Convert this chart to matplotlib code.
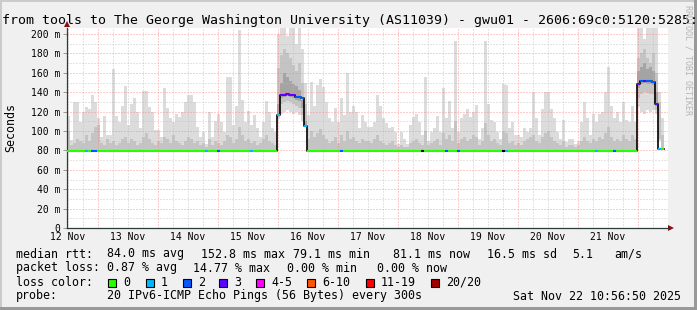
"""
SmokePing style latency chart: tools -> The George Washington University (gwu01)
"""

import numpy as np
import matplotlib
matplotlib.use("Agg")
import matplotlib.pyplot as plt
from matplotlib.patches import Rectangle

# ---------------------------------------------------------------
# Data (one value per 72 min bucket, starting 12 Nov ~11:36)
# ---------------------------------------------------------------
# top of the light "smoke" (slowest pings), ms
smoke_hi = [115, 91, 130, 130, 109, 120, 125, 123, 137, 130,
            113, 94, 115, 96, 96, 164, 115, 109, 126, 146,
            106, 128, 134, 120, 103, 141, 141, 125, 120, 101,
            101, 94, 144, 124, 113, 109, 118, 114, 120, 130,
            137, 137, 130, 104, 94, 99, 87, 120, 94, 110,
            118, 109, 99, 156, 156, 106, 126, 204, 132, 109,
            121, 106, 116, 103, 94, 109, 131, 120, 103, 99,
            200, 206, 206, 198, 206, 206, 190, 206, 185, 150,
            116, 151, 126, 147, 154, 145, 130, 113, 109, 124,
            109, 134, 116, 160, 120, 126, 120, 103, 116, 109,
            104, 104, 109, 137, 126, 113, 108, 103, 104, 99,
            87, 99, 92, 87, 106, 114, 118, 109, 96, 156,
            90, 99, 103, 115, 99, 144, 113, 131, 103, 193,
            99, 113, 118, 123, 114, 120, 127, 92, 103, 193,
            128, 111, 109, 99, 92, 148, 147, 103, 109, 96,
            96, 94, 103, 99, 103, 140, 113, 96, 123, 140,
            140, 123, 113, 99, 92, 111, 89, 92, 92, 87,
            90, 109, 130, 113, 96, 118, 109, 118, 120, 140,
            166, 126, 113, 120, 109, 130, 111, 109, 126, 109,
            206, 206, 195, 206, 206, 206, 206, 140, 113]

# top of the medium grey smoke band, ms
smoke_mid = [100, 86, 88, 92, 90, 88, 96, 90, 98, 104,
             106, 88, 86, 92, 88, 90, 86, 88, 92, 94,
             88, 92, 90, 86, 88, 94, 98, 92, 88, 86,
             90, 88, 94, 92, 88, 96, 90, 88, 86, 90,
             94, 92, 88, 90, 86, 88, 84, 92, 86, 90,
             88, 86, 90, 96, 94, 88, 92, 104, 96, 90,
             92, 88, 90, 86, 88, 92, 96, 90, 88, 86,
             165, 178, 185, 180, 175, 168, 162, 170, 150, 128,
             92, 100, 94, 98, 102, 96, 92, 88, 90, 94,
             88, 96, 90, 100, 92, 94, 90, 88, 92, 90,
             90, 88, 92, 96, 90, 88, 86, 88, 90, 86,
             84, 86, 84, 84, 88, 90, 92, 88, 86, 100,
             86, 88, 90, 92, 86, 98, 92, 96, 90, 110,
             88, 92, 94, 90, 92, 96, 94, 86, 90, 108,
             96, 90, 92, 88, 86, 100, 98, 88, 90, 86,
             88, 86, 90, 92, 94, 96, 90, 88, 94, 98,
             100, 94, 90, 88, 86, 90, 84, 86, 86, 84,
             86, 90, 94, 90, 88, 92, 90, 94, 92, 98,
             104, 94, 90, 92, 90, 96, 92, 90, 96, 92,
             175, 180, 185, 175, 170, 180, 160, 130, 96]

# bottom of the smoke (fastest pings), ms
smoke_lo = ([79] * 70 + [112, 118, 120, 122, 120, 118, 120, 116, 110, 104]
            + [79] * 110 + [125, 120, 118, 122, 120, 122, 118, 90, 80])

# bottom of the medium grey band
mid_lo = ([79] * 70 + [114, 128, 130, 131, 130, 128, 126, 124, 116, 106]
          + [79] * 110 + [134, 138, 140, 139, 138, 138, 122, 92, 80])

# dark core of the smoke around the median during the two congestion periods
dark_lo = ([0] * 70 + [116, 134, 135, 136, 135, 134, 132, 131, 124, 104]
           + [0] * 110 + [144, 148, 149, 148, 148, 147, 126, 0, 0])
dark_hi = ([0] * 70 + [128, 150, 160, 156, 152, 148, 146, 142, 132, 110]
           + [0] * 110 + [162, 166, 170, 164, 166, 162, 140, 0, 0])

# median rtt, ms
median = ([79] * 70 + [117, 137, 137, 138, 137, 137, 135, 135, 134, 105]
          + [79] * 110 + [148, 152, 152, 152, 152, 151, 128, 81, 81])

# packet loss class per bucket (index into loss_colors, 8 = unknown)
loss = ([0] * 6 + [1, 0, 2, 2] + [0] * 36 + [1, 0, 0, 0, 2] + [0] * 10 + [1] + [0] * 8
        + [1, 3, 3, 3, 3, 3, 2, 2, 2, 1] + [0] * 11 + [2] + [0] * 26 + [8] + [0] * 7 + [2]
        + [0] * 3 + [2] + [0] * 14 + [8, 1] + [0] * 29 + [1] + [0] * 5 + [2] + [0] * 7
        + [3, 2, 3, 2, 2, 2, 3, 1, 0])

loss_labels = ['0', '1', '2', '3', '4-5', '6-10', '11-19', '20/20']
loss_colors = ['#26ff00', '#00b8ff', '#0059ff', '#5e00ff',
               '#ff00ff', '#ff5500', '#ff0000', '#a10000', '#000000']

day_labels = ['12 Nov', '13 Nov', '14 Nov', '15 Nov', '16 Nov',
              '17 Nov', '18 Nov', '19 Nov', '20 Nov', '21 Nov']

y_ticks = [0, 20, 40, 60, 80, 100, 120, 140, 160, 180, 200]

title = ('from tools to The George Washington University (AS11039) - gwu01 - '
         '2606:69c0:5120:5285::1')

# ---------------------------------------------------------------
# Figure
# ---------------------------------------------------------------
W, H = 697, 310
MONO = 'DejaVu Sans Mono'
plt.rcParams['font.family'] = MONO

fig = plt.figure(figsize=(W / 100, H / 100), dpi=100, facecolor='#f0f0f0')


def fx(px):
    return px / W


def fy(py):
    return 1 - py / H


ax = fig.add_axes([fx(67), fy(228), (668 - 67) / W, 200 / H])
ax.set_facecolor('white')

# time axis in days since 12 Nov 00:00
t0 = 0.4833
step = 0.05
n = len(smoke_hi)
left = t0 + step * np.arange(n)
hi = np.array(smoke_hi, float)
mid = np.array(smoke_mid, float)
lo = np.array(smoke_lo, float)
mlo = np.array(mid_lo, float)
dlo = np.array(dark_lo, float)
dhi = np.array(dark_hi, float)
med = np.array(median, float)

# smoke
ax.bar(left, hi - lo, bottom=lo, width=step, align='edge',
       color='#dcdcdc', linewidth=0, antialiased=False, zorder=1)
ax.bar(left, mid - mlo, bottom=mlo, width=step, align='edge',
       color='#c4c4c4', linewidth=0, antialiased=False, zorder=1.1)
has_dark = dhi > 0
ax.bar(left[has_dark], (dhi - dlo)[has_dark], bottom=dlo[has_dark], width=step,
       align='edge', color='#a4a4a4', linewidth=0, antialiased=False, zorder=1.2)

# grid (drawn over the smoke like rrdtool)
dots = (0, (1, 2))
for d in np.arange(0.25, 10.5, 0.25):
    if abs(d - round(d)) < 1e-6:
        ax.axvline(d, color='#ff8080', lw=0.72, ls=dots, alpha=0.8, zorder=2)
    else:
        ax.axvline(d, color='#bdbdbd', lw=0.72, ls=dots, alpha=0.8, zorder=2)
for v in range(10, 210, 10):
    if v % 20 == 0:
        ax.axhline(v, color='#ff8080', lw=0.72, ls=dots, alpha=0.8, zorder=2)
    else:
        ax.axhline(v, color='#bdbdbd', lw=0.72, ls=dots, alpha=0.8, zorder=2)

# median line: black risers, loss coloured treads
ax.step(np.append(left, left[-1] + step), np.append(med, med[-1]),
        where='post', color='black', lw=1.2, zorder=3)
ax.hlines(med, left, left + step, colors=[loss_colors[i] for i in loss],
          lw=1.5, zorder=4)

ax.set_xlim(t0, 10.5)
ax.set_ylim(0, 206.2)

# axes
for s in ['top', 'right']:
    ax.spines[s].set_visible(False)
for s in ['left', 'bottom']:
    ax.spines[s].set_color('#2c3c38')
    ax.spines[s].set_linewidth(0.9)
ax.plot([0], [1.018], marker='^', ms=5, color='#8b1010', mew=0,
        transform=ax.transAxes, clip_on=False)
ax.plot([1.005], [0], marker='>', ms=5, color='#8b1010', mew=0,
        transform=ax.transAxes, clip_on=False)

ax.set_xticks([0.5 + k for k in range(len(day_labels))])
ax.set_xticklabels(day_labels)
ax.tick_params(axis='x', length=0, pad=3, labelsize=7)
ax.set_yticks(y_ticks)
ax.set_yticklabels([str(v) if v == 0 else f'{v} m' for v in y_ticks])
ax.tick_params(axis='y', length=3, width=0.72, color='#999999', pad=2, labelsize=7)

# titles
fig.text(fx(2), fy(24), title, fontsize=9.5, va='baseline', ha='left')
fig.text(fx(10.5), fy(127.5), 'Seconds', rotation=90, fontsize=8.4,
         va='center', ha='center')
fig.text(fx(688), fy(60), 'RRDTOOL / TOBI OETIKER', rotation=270, fontsize=6,
         color='#b5b5b5', va='center', ha='center')

# legend rows
FS = 8.4
rows = [
    (257.5, [(16, 'median rtt:'), (107, '84.0 ms avg'), (201, '152.8 ms max'),
             (293, '79.1 ms min'), (393, '81.1 ms now'), (487, '16.5 ms sd'),
             (572, '5.1'), (614, 'am/s')]),
    (271.5, [(16, 'packet loss:'), (107, '0.87 % avg'), (193, '14.77 % max'),
             (287, '0.00 % min'), (377, '0.00 % now')]),
    (285.5, [(16, 'loss color:')]),
    (299.5, [(16, 'probe:'), (107, '20 IPv6-ICMP Echo Pings (56 Bytes) every 300s'),
             (513, 'Sat Nov 22 10:56:50 2025')]),
]
for base, items in rows:
    for px, txt in items:
        fig.text(fx(px), fy(base), txt, fontsize=FS, va='baseline', ha='left')

box_x = [108, 146, 183, 219, 256, 307, 366, 431]
for bx, lab, col in zip(box_x, loss_labels, loss_colors):
    fig.add_artist(Rectangle((fx(bx), fy(286.5)), 8 / W, 8 / H,
                             transform=fig.transFigure, facecolor=col,
                             edgecolor='black', lw=0.8))
    fig.text(fx(bx + 15), fy(285.5), lab, fontsize=FS, va='baseline', ha='left')

# 3D frame
fig.add_artist(Rectangle((0, 1 - 2 / H), 1, 2 / H, transform=fig.transFigure,
                         facecolor='#cbcbcb', lw=0, antialiased=False))
fig.add_artist(Rectangle((0, 0), 2 / W, 1, transform=fig.transFigure,
                         facecolor='#cbcbcb', lw=0, antialiased=False))
fig.add_artist(Rectangle((0, 0), 1, 3 / H, transform=fig.transFigure,
                         facecolor='#999999', lw=0, antialiased=False))
fig.add_artist(Rectangle((1 - 3 / W, 0), 3 / W, 1, transform=fig.transFigure,
                         facecolor='#999999', lw=0, antialiased=False))

fig.savefig('out.png', dpi=100, facecolor=fig.get_facecolor())
